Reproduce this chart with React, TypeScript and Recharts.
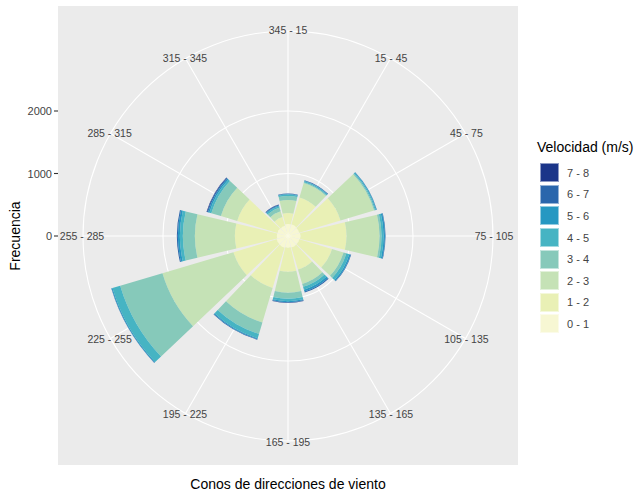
import { RadialBarChart, RadialBar, PolarGrid, PolarAngleAxis, PolarRadiusAxis } from 'recharts'

// wind direction cones, clockwise from north
const directions = [
  '345 - 15', '15 - 45', '45 - 75', '75 - 105', '105 - 135', '135 - 165',
  '165 - 195', '195 - 225', '225 - 255', '255 - 285', '285 - 315', '315 - 345',
]
// centre bearing of each cone
const bearings = [0, 30, 60, 90, 120, 150, 180, 210, 240, 270, 300, 330]

const speedBins = ['0 - 1', '1 - 2', '2 - 3', '3 - 4', '4 - 5', '5 - 6', '6 - 7', '7 - 8']
const speedColors = ['#f7f7d3', '#e9f0b5', '#c5e2b6', '#86c9ba', '#46b4c3', '#2698c2', '#2a66ac', '#1b3589']

// counts per speed bin, one value per direction
const v01 = [192, 195, 188, 200, 190, 192, 186, 194, 190, 178, 176, 172]
const v12 = [176, 448, 688, 736, 544, 368, 384, 672, 720, 672, 672, 144]
const v23 = [208, 240, 560, 528, 192, 240, 336, 576, 1185, 640, 272, 96]
const v34 = [64, 16, 16, 32, 48, 48, 96, 192, 705, 192, 160, 64]
const v45 = [24, 16, 16, 32, 48, 48, 40, 72, 130, 48, 32, 20]
const v56 = [8, 8, 11, 24, 24, 32, 16, 16, 15, 32, 24, 15]
const v67 = [8, 8, 5, 8, 8, 16, 8, 8, 5, 16, 16, 10]
const v78 = [0, 0, 0, 0, 0, 0, 5, 0, 0, 0, 8, 3]

const radiusTicks = [0, 1000, 2000]
const radiusMax = 3280

const series = [v01, v12, v23, v34, v45, v56, v67, v78]

const data = directions.map((dir, i) => {
  const row: Record<string, string | number> = { dir, bearing: bearings[i] }
  series.forEach((s, k) => {
    row['s' + k] = s[i]
  })
  return row
})

const FONT = '"Liberation Sans", Arial, sans-serif'
const RAD = Math.PI / 180

function AngleTick(props: any) {
  const { cx, cy, radius, payload } = props
  const r = radius + 1
  const a = -payload.coordinate * RAD
  const x = cx + Math.cos(a) * r
  const y = cy + Math.sin(a) * r
  const label = directions[bearings.indexOf(payload.value)]
  return (
    <text x={x} y={y} textAnchor="middle" dominantBaseline="central" fontSize={10.5} fill="#444" fontFamily={FONT}>
      {label}
    </text>
  )
}

function RadiusTick(props: any) {
  const { y, payload } = props
  if (!radiusTicks.includes(payload.value)) return null
  return (
    <g>
      <text x={52} y={y} textAnchor="end" dominantBaseline="central" fontSize={11} fill="#444" fontFamily={FONT}>
        {payload.value}
      </text>
      <line x1={54} x2={58} y1={y} y2={y} stroke="#333" strokeWidth={1.1} />
    </g>
  )
}

export default function App() {
  return (
    <div style={{ position: 'absolute', left: 0, top: 0, width: 637, height: 493, background: '#fff', fontFamily: FONT }}>
      <div style={{ position: 'absolute', left: 58, top: 6, width: 460, height: 459, background: '#ebebeb' }} />
      <div style={{ position: 'absolute', left: 0, top: 0 }}>
        <RadialBarChart
          width={637}
          height={493}
          data={data}
          cx={288}
          cy={236}
          innerRadius={0}
          outerRadius={205}
          startAngle={90}
          endAngle={-270}
          layout="centric"
          barCategoryGap="5%"
          margin={{ top: 0, right: 0, bottom: 0, left: 0 }}
        >
          <PolarGrid gridType="circle" stroke="#fff" strokeWidth={1.1} />
          <PolarAngleAxis
            dataKey="bearing"
            type="number"
            domain={[0, 360]}
            ticks={bearings}
            axisLine={false}
            tickLine={false}
            tick={<AngleTick />}
          />
          <PolarRadiusAxis
            type="number"
            domain={[0, radiusMax]}
            ticks={[...radiusTicks, radiusMax]}
            angle={90}
            axisLine={false}
            tickLine={false}
            tick={<RadiusTick />}
          />
          {speedBins.map((name, k) => (
            <RadialBar
              key={name}
              dataKey={'s' + k}
              name={name}
              stackId="a"
              fill={speedColors[k]}
              isAnimationActive={false}
            />
          ))}
        </RadialBarChart>
      </div>

      <div style={{ position: 'absolute', left: 0, width: 30, top: 236, height: 0 }}>
        <div
          style={{
            position: 'absolute',
            left: 15,
            top: 0,
            transform: 'translate(-50%, -50%) rotate(-90deg)',
            fontSize: 14,
            whiteSpace: 'nowrap',
            color: '#000',
          }}
        >
          Frecuencia
        </div>
      </div>

      <div style={{ position: 'absolute', left: 58, width: 460, top: 476, textAlign: 'center', fontSize: 14, color: '#000' }}>
        Conos de direcciones de viento
      </div>

      <div style={{ position: 'absolute', left: 537, top: 138 }}>
        <div style={{ fontSize: 14, color: '#000', lineHeight: '18px', marginBottom: 6 }}>Velocidad (m/s)</div>
        {speedBins
          .map((name, k) => ({ name, color: speedColors[k] }))
          .reverse()
          .map((item) => (
            <div key={item.name} style={{ display: 'flex', alignItems: 'center', height: 21.6 }}>
              <div style={{ width: 19, height: 19, marginLeft: 3, background: item.color, boxShadow: 'inset 0 0 0 1px rgba(255,255,255,0.5)' }} />
              <div style={{ marginLeft: 8, fontSize: 11, color: '#444' }}>{item.name}</div>
            </div>
          ))}
      </div>
    </div>
  )
}
